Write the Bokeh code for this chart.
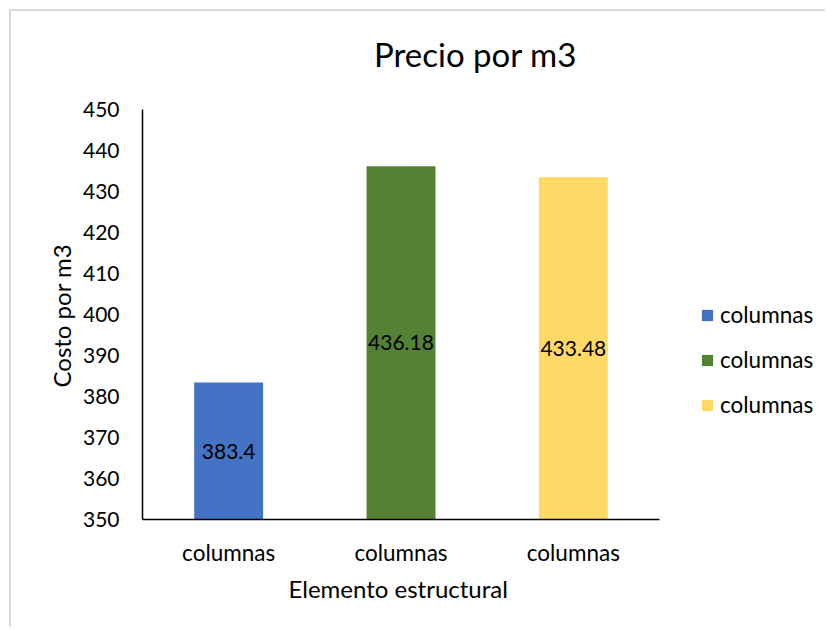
from bokeh.plotting import figure
from bokeh.models import (ColumnDataSource, FixedTicker, Label, LabelSet,
                          Legend, LegendItem, Range1d, Title)
from bokeh.core.properties import value
from bokeh.embed import file_html
from bokeh.resources import INLINE

# Data
categories = ["columnas", "columnas", "columnas"]
series_names = ["columnas", "columnas", "columnas"]
costs = [383.4, 436.18, 433.48]
colors = ["#4472C4", "#548235", "#FFD966"]
y_ticks = [350, 360, 370, 380, 390, 400, 410, 420, 430, 440, 450]

FONT = "Lato"
TXT = "#000000"

# Canvas (offset by the gray chart border on the left/top edge)
W, H = 816, 618
AX_LEFT, AX_BOTTOM = 131, 508      # where the axes meet
PX_PER_X = 517 / 3                 # axis length / categories
PX_PER_Y = 410 / 100               # axis length / value span

# The frame runs to the canvas' top and right edges so the title and the
# legend can sit inside it; the axis lines are held to their bounds.
x_end = (W - AX_LEFT) / PX_PER_X
y_end = 350 + AX_BOTTOM / PX_PER_Y

p = figure(width=W, height=H, output_backend="svg", toolbar_location=None,
           x_range=Range1d(0, x_end), y_range=Range1d(350, y_end),
           min_border_left=AX_LEFT, min_border_right=0,
           min_border_top=0, min_border_bottom=H - AX_BOTTOM)
p.margin = (9, 0, 0, 9)
p.styles = {"border-left": "2px solid #d9d9d9", "border-top": "2px solid #d9d9d9"}
p.outline_line_color = None
p.grid.visible = False
p.background_fill_color = "white"
p.border_fill_color = "white"

xs = [i + 0.5 for i in range(len(costs))]
renderers = []
for x, c, col in zip(xs, costs, colors):
    r = p.vbar(x=[x], top=[c], bottom=350, width=0.4, fill_color=col,
               line_color=None)
    renderers.append(r)

# Value labels centred inside each bar
lab_src = ColumnDataSource(dict(x=xs, y=[(350 + c) / 2 for c in costs],
                                t=[str(c) for c in costs]))
p.add_layout(LabelSet(x="x", y="y", text="t", source=lab_src,
                      text_align="center", text_baseline="middle",
                      text_font=value(FONT), text_font_size="21px",
                      text_color=TXT))

# Axes
p.yaxis.ticker = FixedTicker(ticks=y_ticks)
p.xaxis.ticker = FixedTicker(ticks=xs)
p.xaxis.major_label_overrides = {x: c for x, c in zip(xs, categories)}
p.yaxis.bounds = (350, 450)
p.xaxis.bounds = (0, 3)
for ax in (p.xaxis[0], p.yaxis[0]):
    ax.axis_line_color = "#000000"
    ax.axis_line_width = 1.5
    ax.major_tick_line_color = None
    ax.minor_tick_line_color = None
    ax.major_label_text_font = FONT
    ax.major_label_text_color = TXT
p.yaxis.major_label_text_font_size = "21px"
p.xaxis.major_label_text_font_size = "22.5px"
p.yaxis.major_label_standoff = 17
p.xaxis.major_label_standoff = 13

# Axis titles, laid out next to the axes and placed along the axis lines
y_title = Title(text="Costo por m3", align="left", offset=132, standoff=8,
                text_font=FONT, text_font_size="24px",
                text_font_style="normal", text_color=TXT)
x_title = Title(text="Elemento estructural", align="left", offset=146,
                standoff=6, text_font=FONT, text_font_size="24px",
                text_font_style="normal", text_color=TXT)
p.add_layout(y_title, "left")
p.add_layout(x_title, "below")

# Chart title (screen units are measured from the frame's lower-left corner)
p.add_layout(Label(x=333, y=466, x_units="screen", y_units="screen",
                   text="Precio por m3", text_align="center",
                   text_baseline="middle", text_font=FONT,
                   text_font_size="33px", text_color=TXT))

# Legend, to the right of the bars
legend = Legend(items=[LegendItem(label=n, renderers=[r])
                       for n, r in zip(series_names, renderers)],
                location=(558, 101), glyph_width=14, glyph_height=14,
                label_height=14, spacing=18, padding=0, margin=0,
                label_standoff=6, border_line_color=None,
                background_fill_alpha=0, label_text_font=FONT,
                label_text_font_size="22.5px", label_text_color=TXT)
p.add_layout(legend)

open("out.html", "w").write(file_html(p, INLINE))
